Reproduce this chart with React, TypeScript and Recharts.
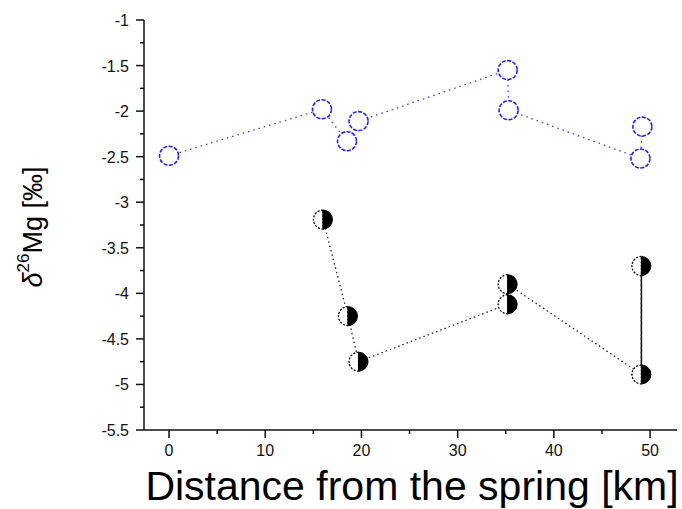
import React from 'react';
import { ComposedChart, Scatter, XAxis, YAxis } from 'recharts';

// Blue series (open circles)
const blueX = [0, 15.9, 18.5, 19.7, 35.2, 35.3, 49.0, 49.2];
const blueY = [-2.49, -1.98, -2.33, -2.11, -1.55, -1.99, -2.52, -2.17];
// Black series (half-filled circles)
const blackX = [16.0, 18.6, 19.7, 35.2, 35.2, 49.1, 49.1];
const blackY = [-3.19, -4.25, -4.75, -4.12, -3.9, -4.89, -3.7];
// Solid segment at the end of the black series
const blackSolidX = [49.1, 49.1];
const blackSolidY = [-4.89, -3.7];

const xMajorTicks = [0, 10, 20, 30, 40, 50];
const xMinorTicks = [5, 15, 25, 35, 45];
const yMajorTicks = [-5.5, -5, -4.5, -4, -3.5, -3, -2.5, -2, -1.5, -1];
const yMinorTicks = [-5.25, -4.75, -4.25, -3.75, -3.25, -2.75, -2.25, -1.75, -1.25];

const xLabel = 'Distance from the spring [km]';

const blueData = blueX.map((x, i) => ({ x, y: blueY[i] }));
const blackData = blackX.map((x, i) => ({ x, y: blackY[i] }));
const blackSolidData = blackSolidX.map((x, i) => ({ x, y: blackSolidY[i] }));

const FONT = '"Liberation Sans", Arial, sans-serif';

const XTick = (props: any) => {
  const { x, y, payload } = props;
  const major = xMajorTicks.includes(payload.value);
  return (
    <g>
      <line x1={x} x2={x} y1={y} y2={y + (major ? 8 : 4)} stroke="#111" strokeWidth={1.5} />
      {major && (
        <text x={x} y={y + 26} textAnchor="middle" fontSize={16} fontFamily={FONT} fill="#111">
          {payload.value}
        </text>
      )}
    </g>
  );
};

const YTick = (props: any) => {
  const { x, y, payload } = props;
  const major = yMajorTicks.includes(payload.value);
  return (
    <g>
      <line x1={x - (major ? 8 : 4)} x2={x} y1={y} y2={y} stroke="#111" strokeWidth={1.5} />
      {major && (
        <text x={x - 15} y={y + 6} textAnchor="end" fontSize={16} fontFamily={FONT} fill="#111">
          {payload.value}
        </text>
      )}
    </g>
  );
};

const BlueCircle = (props: any) => {
  const { cx, cy } = props;
  if (cx == null || cy == null) return <g />;
  return (
    <circle cx={cx} cy={cy} r={9.5} fill="#fff" stroke="#1f1fff" strokeWidth={1.6} strokeDasharray="4 1.5" />
  );
};

const HalfCircle = (props: any) => {
  const { cx, cy } = props;
  if (cx == null || cy == null) return <g />;
  const r = 9.5;
  return (
    <g>
      <path d={`M ${cx} ${cy - r} A ${r} ${r} 0 0 0 ${cx} ${cy + r} Z`} fill="#fff" stroke="#000" strokeWidth={1.3} strokeDasharray="2 1.5" />
      <path d={`M ${cx} ${cy - r} A ${r} ${r} 0 0 1 ${cx} ${cy + r} Z`} fill="#000" stroke="#000" strokeWidth={1} />
    </g>
  );
};

const NoShape = () => <g />;

export default function App() {
  return (
    <div style={{ position: 'absolute', left: 0, top: 0, background: '#fff' }}>
      <ComposedChart width={682} height={509} margin={{ top: 20, right: 5, left: 0, bottom: 0 }}>
        <XAxis
          type="number"
          dataKey="x"
          domain={[-2.6, 52.8]}
          allowDataOverflow
          ticks={[...xMajorTicks, ...xMinorTicks].sort((a, b) => a - b)}
          interval={0}
          tickSize={0}
          tickMargin={0}
          tickLine={false}
          tick={<XTick />}
          axisLine={{ stroke: '#111', strokeWidth: 1.5 }}
          height={79}
          label={{
            content: () => (
              <text x={412} y={500} textAnchor="middle" fontSize={41} fontFamily={FONT} fill="#000">
                {xLabel}
              </text>
            ),
          }}
        />
        <YAxis
          type="number"
          dataKey="y"
          domain={[-5.5, -1]}
          allowDataOverflow
          ticks={[...yMajorTicks, ...yMinorTicks].sort((a, b) => a - b)}
          interval={0}
          tickSize={0}
          tickMargin={0}
          tickLine={false}
          tick={<YTick />}
          axisLine={{ stroke: '#111', strokeWidth: 1.5 }}
          width={144}
          label={{
            content: () => (
              <text
                x={33}
                y={227}
                transform="rotate(-90, 33, 227)"
                textAnchor="middle"
                dominantBaseline="central"
                fontSize={27}
                fontFamily={FONT}
                fill="#000"
              >
                <tspan fontStyle="italic">δ</tspan>
                <tspan fontSize={17} dy={-10}>26</tspan>
                <tspan dy={10}>Mg [‰]</tspan>
              </text>
            ),
          }}
        />
        <Scatter
          data={blueData}
          isAnimationActive={false}
          line={{ stroke: '#3a3aff', strokeWidth: 1.3, strokeDasharray: '1.5 4' }}
          lineType="joint"
          shape={<BlueCircle />}
        />
        <Scatter
          data={blackSolidData}
          isAnimationActive={false}
          line={{ stroke: '#000', strokeWidth: 1.5 }}
          lineType="joint"
          shape={<NoShape />}
        />
        <Scatter
          data={blackData}
          isAnimationActive={false}
          line={{ stroke: '#222', strokeWidth: 1.3, strokeDasharray: '1.5 3' }}
          lineType="joint"
          shape={<HalfCircle />}
        />
      </ComposedChart>
    </div>
  );
}
